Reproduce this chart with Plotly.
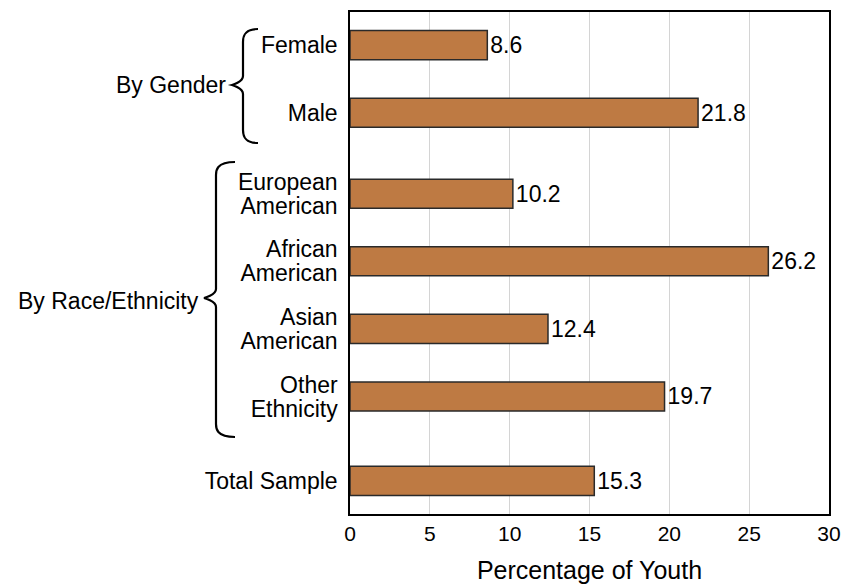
import plotly.graph_objects as go

# Share of youth (%) by subgroup
categories = ["Female", "Male", "European American", "African American",
              "Asian American", "Other Ethnicity", "Total Sample"]
label_lines = [["Female"], ["Male"], ["European", "American"], ["African", "American"],
               ["Asian", "American"], ["Other", "Ethnicity"], ["Total Sample"]]
values = [8.6, 21.8, 10.2, 26.2, 12.4, 19.7, 15.3]
# vertical slots, with extra room between the groups
slots = [0, 1, 2.2, 3.2, 4.2, 5.2, 6.45]
x_ticks = [0, 5, 10, 15, 20, 25, 30]

W, H = 854, 584
L, R, T, B = 350, 25, 12, 70
PW, PH = W - L - R, H - T - B
Y_RANGE = [6.94, -0.49]
UNIT = PH / (Y_RANGE[0] - Y_RANGE[1])  # pixels per slot unit
LINE_GAP = 24  # pixel spacing between the two lines of a label


def px(x):
    return (x - L) / PW


def py(y):
    return (H - B - y) / PH


def brace(x_tip, x_mid, x_end, y_top, y_tip, y_bot):
    """Left-pointing curly brace, given in pixel coordinates."""
    c = 9
    pts = [
        f"M {px(x_end)},{py(y_top)}",
        f"C {px(x_mid)},{py(y_top)} {px(x_mid)},{py(y_top + c)} {px(x_mid)},{py(y_top + c + 4)}",
        f"L {px(x_mid)},{py(y_tip - c)}",
        f"C {px(x_mid)},{py(y_tip - 3)} {px(x_tip)},{py(y_tip)} {px(x_tip)},{py(y_tip)}",
        f"C {px(x_tip)},{py(y_tip)} {px(x_mid)},{py(y_tip + 3)} {px(x_mid)},{py(y_tip + c)}",
        f"L {px(x_mid)},{py(y_bot - c - 4)}",
        f"C {px(x_mid)},{py(y_bot - c)} {px(x_mid)},{py(y_bot)} {px(x_end)},{py(y_bot)}",
    ]
    return " ".join(pts)


# one tick per label line, so two-line labels keep a tight line spacing
tick_vals, tick_text = [], []
half = LINE_GAP / 2 / UNIT
for s, lines in zip(slots, label_lines):
    if len(lines) == 1:
        tick_vals.append(s)
        tick_text.append(lines[0])
    else:
        tick_vals += [s - half, s + half]
        tick_text += lines

fig = go.Figure(
    go.Bar(
        x=values,
        y=slots,
        orientation="h",
        width=0.43,
        marker=dict(color="#BE7A43", line=dict(color="#2a2a2a", width=1.5)),
        text=[f"{v:.1f}" for v in values],
        textposition="outside",
        textfont=dict(size=23, color="#000000"),
        cliponaxis=False,
        customdata=categories,
        hovertemplate="%{customdata}: %{x:.1f}%<extra></extra>",
    )
)

fig.update_layout(
    width=W,
    height=H,
    margin=dict(l=L, r=R, t=T, b=B),
    paper_bgcolor="white",
    plot_bgcolor="white",
    font=dict(family="Liberation Sans, Arial, sans-serif", color="#000000"),
    showlegend=False,
    uniformtext=dict(minsize=23, mode="show"),
    xaxis=dict(
        range=[0, 30],
        tickvals=x_ticks,
        tickfont=dict(size=21),
        showgrid=True,
        gridcolor="#d4d4d4",
        gridwidth=1.3,
        zeroline=False,
        showline=True,
        linecolor="#000000",
        linewidth=1.5,
        mirror=True,
        ticks="",
        automargin=False,
        title=dict(text="Percentage of Youth", font=dict(size=25), standoff=22),
    ),
    yaxis=dict(
        range=Y_RANGE,
        tickvals=tick_vals,
        ticktext=tick_text,
        tickfont=dict(size=23),
        showgrid=False,
        zeroline=False,
        showline=True,
        linecolor="#000000",
        linewidth=1.5,
        mirror=True,
        ticks="outside",
        ticklen=6,
        tickcolor="rgba(0,0,0,0)",
        automargin=False,
    ),
    shapes=[
        dict(type="path", xref="paper", yref="paper",
             path=brace(232, 243, 258, 29, 85, 143),
             line=dict(color="#000000", width=2.2)),
        dict(type="path", xref="paper", yref="paper",
             path=brace(204, 216, 235, 162, 298, 437),
             line=dict(color="#000000", width=2.2)),
    ],
    annotations=[
        dict(text="By Gender", xref="paper", yref="paper",
             x=px(228), y=py(85), xanchor="right", yanchor="middle",
             showarrow=False, font=dict(size=23)),
        dict(text="By Race/Ethnicity", xref="paper", yref="paper",
             x=px(201), y=py(301), xanchor="right", yanchor="middle",
             showarrow=False, font=dict(size=23)),
    ],
)

fig.write_html("out.html")
